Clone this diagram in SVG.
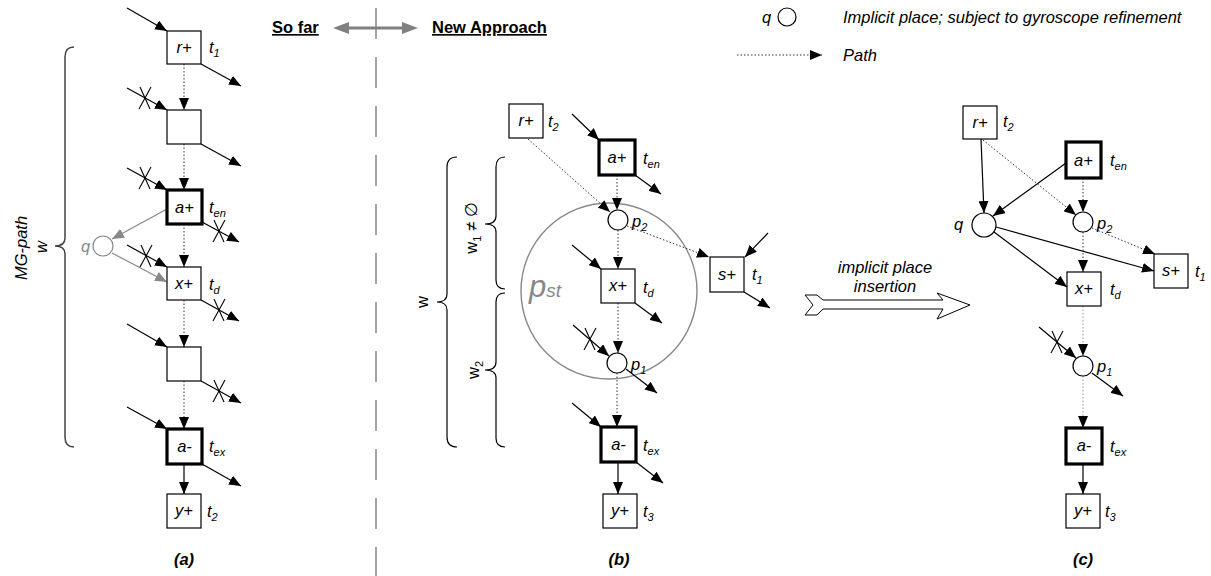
<svg xmlns="http://www.w3.org/2000/svg" xmlns:xlink="http://www.w3.org/1999/xlink" width="1211" height="576" viewBox="0 0 1211 576">
  <style>
    text { font-family: "Liberation Sans", Arial, sans-serif; font-size: 16.5px; fill: #000; }
    .it { font-style: italic; }
    .mid { text-anchor: middle; }
    .head { font-weight: bold; text-decoration: underline; font-size: 16.5px; }
    .cap { font-weight: bold; font-style: italic; text-anchor: middle; }
    .gray { fill: #888; }
    .sub { font-size: 11px; }
    .box { fill: #fff; stroke: #000; stroke-width: 1.2; }
    .thick { fill: #fff; stroke: #000; stroke-width: 3.2; }
    .place { fill: #fff; stroke: #000; stroke-width: 1.2; }
    .arc { fill: none; stroke: #000; stroke-width: 1.2; marker-end: url(#ah); }
    .dot { fill: none; stroke: #333; stroke-width: 1; stroke-dasharray: 1.5 2; marker-end: url(#ah); }
    .dotl { fill: none; stroke: #999; stroke-width: 1; stroke-dasharray: 1.5 2; marker-end: url(#ah); }
    .garc { fill: none; stroke: #888; stroke-width: 1.2; marker-end: url(#ahg); }
    .brace { fill: none; stroke: #000; stroke-width: 1.2; }
    .xmark { stroke: #000; stroke-width: 1.1; }
  </style>
  <defs>
    <marker id="ah" viewBox="0 0 12 10" refX="12" refY="5" markerWidth="12" markerHeight="10" markerUnits="userSpaceOnUse" orient="auto">
      <path d="M0,0 L12,5 L0,10 z" fill="#000"/>
    </marker>
    <marker id="ahg" viewBox="0 0 12 10" refX="12" refY="5" markerWidth="12" markerHeight="10" markerUnits="userSpaceOnUse" orient="auto">
      <path d="M0,0 L12,5 L0,10 z" fill="#888"/>
    </marker>
    <!-- cross drawn over a disabled arc -->
    <g id="cross">
      <line class="xmark" x1="-5" y1="-11" x2="5" y2="11"/>
      <line class="xmark" x1="6" y1="-11" x2="-6" y2="11"/>
    </g>
  </defs>

  <!-- headings and divider -->
  <g id="header">
    <line x1="376" y1="8" x2="376" y2="576" stroke="#888" stroke-width="1.5" stroke-dasharray="31 18"/>
    <text class="head" x="272" y="33">So far</text>
    <text class="head" x="432" y="33">New Approach</text>
    <line x1="346" y1="28" x2="405" y2="28" stroke="#808080" stroke-width="3"/>
    <polygon points="333,28 349,22 349,34" fill="#808080"/>
    <polygon points="418,28 402,22 402,34" fill="#808080"/>
  </g>

  <!-- legend -->
  <g id="legend">
    <text class="it" x="762" y="23">q</text>
    <circle class="place" cx="787" cy="17" r="9"/>
    <text class="it" x="843" y="23">Implicit place; subject to gyroscope refinement</text>
    <line class="dot" x1="737" y1="55" x2="822" y2="55"/>
    <text class="it" x="843" y="61">Path</text>
  </g>

  <!-- ===== panel (a) ===== -->
  <g id="a-brace">
    <path d="M74,47 Q65,47 65,57 L65,238 Q65,246 55,246 Q65,246 65,254 L65,437 Q65,447 74,447" fill="none" stroke="#444" stroke-width="1.5"/>
    <text class="it mid" transform="translate(27,248) rotate(-90)">MG-path</text>
    <text class="it mid" transform="translate(47,247) rotate(-90)">w</text>
  </g>
  <g id="a-conn">
    <line class="arc" x1="127" y1="8" x2="167" y2="31"/>
    <line class="arc" x1="201" y1="64" x2="241" y2="86"/>
    <line class="dot" x1="184" y1="64" x2="184" y2="110"/>
    <line class="arc" x1="127" y1="88" x2="167" y2="110"/>
    <use xlink:href="#cross" x="145" y="98"/>
    <line class="arc" x1="201" y1="144" x2="241" y2="166"/>
    <line class="dot" x1="184" y1="144" x2="184" y2="190"/>
    <line class="arc" x1="127" y1="168" x2="167" y2="190"/>
    <use xlink:href="#cross" x="145" y="178"/>
    <line class="arc" x1="202" y1="222" x2="239" y2="242"/>
    <use xlink:href="#cross" x="219" y="231"/>
    <line class="garc" x1="167" y1="209" x2="112" y2="239"/>
    <line class="garc" x1="112" y1="253" x2="167" y2="282"/>
    <line class="arc" x1="127" y1="245" x2="167" y2="267"/>
    <use xlink:href="#cross" x="146" y="256"/>
    <line class="dot" x1="184" y1="224" x2="184" y2="267"/>
    <line class="arc" x1="201" y1="300" x2="239" y2="321"/>
    <use xlink:href="#cross" x="219" y="310"/>
    <line class="dot" x1="184" y1="300" x2="184" y2="347"/>
    <line class="arc" x1="127" y1="324" x2="167" y2="347"/>
    <line class="arc" x1="201" y1="381" x2="241" y2="403"/>
    <use xlink:href="#cross" x="219" y="391"/>
    <line class="dot" x1="184" y1="381" x2="184" y2="429"/>
    <line class="arc" x1="127" y1="407" x2="167" y2="429"/>
    <line class="arc" x1="202" y1="464" x2="241" y2="486"/>
    <line class="arc" x1="184" y1="464" x2="184" y2="494"/>
  </g>
  <g id="a-r">
    <rect class="box" x="167" y="31" width="34" height="33"/>
    <text class="it mid" x="184" y="53">r+</text>
    <text class="it" x="209" y="53">t<tspan class="sub" dy="4">1</tspan></text>
  </g>
  <g id="a-n2"><rect class="box" x="167" y="110" width="34" height="34"/></g>
  <g id="a-en">
    <rect class="thick" x="167" y="190" width="35" height="34"/>
    <text class="it mid" x="184.5" y="213">a+</text>
    <text class="it" x="209" y="213">t<tspan class="sub" dy="4">en</tspan></text>
  </g>
  <g id="a-q">
    <circle cx="103" cy="246" r="10" fill="#fff" stroke="#888" stroke-width="1.2"/>
    <text class="it gray" x="81" y="252">q</text>
  </g>
  <g id="a-x">
    <rect class="box" x="167" y="267" width="34" height="33"/>
    <text class="it mid" x="184" y="289">x+</text>
    <text class="it" x="209" y="290">t<tspan class="sub" dy="4">d</tspan></text>
  </g>
  <g id="a-n4"><rect class="box" x="167" y="347" width="34" height="34"/></g>
  <g id="a-ex">
    <rect class="thick" x="167" y="429" width="35" height="35"/>
    <text class="it mid" x="184.5" y="452">a-</text>
    <text class="it" x="209" y="452">t<tspan class="sub" dy="4">ex</tspan></text>
  </g>
  <g id="a-y">
    <rect class="box" x="167" y="494" width="34" height="34"/>
    <text class="it mid" x="184" y="516">y+</text>
    <text class="it" x="207" y="517">t<tspan class="sub" dy="4">2</tspan></text>
  </g>
  <text class="cap" x="184" y="565">(a)</text>

  <!-- ===== panel (b) ===== -->
  <g id="b-pst">
    <circle cx="609" cy="291" r="88" fill="none" stroke="#888" stroke-width="1.4"/>
    <text class="it gray" x="529" y="297" style="font-size:31px">p<tspan style="font-size:19px">st</tspan></text>
  </g>
  <g id="b-braces">
    <path class="brace" d="M457,157 Q447,157 447,167 L447,294 Q447,302 437,302 Q447,302 447,310 L447,437 Q447,447 457,447"/>
    <path class="brace" d="M505,157 Q496,157 496,167 L496,216 Q496,224 485,224 Q496,224 496,232 L496,280 Q496,289 505,289"/>
    <path class="brace" d="M505,293 Q496,293 496,302 L496,362 Q496,370 485,370 Q496,370 496,378 L496,438 Q496,447 505,447"/>
    <text class="mid" transform="translate(428,302) rotate(-90)">w</text>
    <text class="mid" transform="translate(477,228) rotate(-90)">w<tspan class="sub" dy="4">1</tspan><tspan dy="-4"> ≠ ∅</tspan></text>
    <text class="mid" transform="translate(479,370) rotate(-90)">w<tspan class="sub" dy="4">2</tspan></text>
  </g>
  <g id="b-conn">
    <line class="arc" x1="572" y1="114" x2="599" y2="140"/>
    <line class="arc" x1="635" y1="175" x2="661" y2="194"/>
    <line class="dot" x1="617" y1="175" x2="617" y2="210"/>
    <line class="dot" x1="528" y1="139" x2="610" y2="212"/>
    <line class="dot" x1="627" y1="226" x2="709" y2="257"/>
    <line class="arc" x1="768" y1="233" x2="745" y2="257"/>
    <line class="arc" x1="744" y1="292" x2="770" y2="308"/>
    <line class="dot" x1="618" y1="230" x2="618" y2="269"/>
    <line class="arc" x1="572" y1="245" x2="601" y2="269"/>
    <line class="arc" x1="635" y1="303" x2="662" y2="323"/>
    <line class="dot" x1="618" y1="303" x2="618" y2="353"/>
    <line class="arc" x1="573" y1="325" x2="609" y2="356"/>
    <use xlink:href="#cross" x="590" y="339"/>
    <line class="arc" x1="626" y1="369" x2="657" y2="393"/>
    <line class="dot" x1="617" y1="373" x2="617" y2="427"/>
    <line class="arc" x1="572" y1="403" x2="601" y2="427"/>
    <line class="arc" x1="636" y1="462" x2="663" y2="483"/>
    <line class="arc" x1="618" y1="462" x2="618" y2="494"/>
  </g>
  <g id="b-r">
    <rect class="box" x="509" y="104" width="34" height="34"/>
    <text class="it mid" x="526" y="126">r+</text>
    <text class="it" x="548" y="127">t<tspan class="sub" dy="4">2</tspan></text>
  </g>
  <g id="b-en">
    <rect class="thick" x="599" y="140" width="36" height="35"/>
    <text class="it mid" x="617" y="163">a+</text>
    <text class="it" x="643" y="164">t<tspan class="sub" dy="4">en</tspan></text>
  </g>
  <g id="b-p2">
    <circle class="place" cx="618" cy="220" r="10"/>
    <text class="it" x="632" y="227">p<tspan class="sub" dy="4">2</tspan></text>
  </g>
  <g id="b-s">
    <rect class="box" x="710" y="257" width="34" height="35"/>
    <text class="it mid" x="727" y="280">s+</text>
    <text class="it" x="752" y="280">t<tspan class="sub" dy="4">1</tspan></text>
  </g>
  <g id="b-x">
    <rect class="box" x="601" y="269" width="34" height="34"/>
    <text class="it mid" x="618" y="291">x+</text>
    <text class="it" x="643" y="293">t<tspan class="sub" dy="4">d</tspan></text>
  </g>
  <g id="b-p1">
    <circle class="place" cx="617" cy="363" r="10"/>
    <text class="it" x="631" y="370">p<tspan class="sub" dy="4">1</tspan></text>
  </g>
  <g id="b-ex">
    <rect class="thick" x="601" y="427" width="35" height="35"/>
    <text class="it mid" x="618.5" y="450">a-</text>
    <text class="it" x="643" y="451">t<tspan class="sub" dy="4">ex</tspan></text>
  </g>
  <g id="b-y">
    <rect class="box" x="603" y="494" width="34" height="34"/>
    <text class="it mid" x="620" y="516">y+</text>
    <text class="it" x="643" y="517">t<tspan class="sub" dy="4">3</tspan></text>
  </g>
  <text class="cap" x="619" y="565">(b)</text>

  <!-- transformation arrow -->
  <g id="insertion">
    <polygon points="805,295 817,295 823,300 943,300 937,293 970,305 937,319 943,309 823,309 817,315 805,315 813,305" fill="#fff" stroke="#000" stroke-width="1"/>
    <text class="it mid" x="885" y="273">implicit place</text>
    <text class="it mid" x="885" y="292">insertion</text>
  </g>

  <!-- ===== panel (c) ===== -->
  <g id="c-conn">
    <line class="arc" x1="981" y1="139" x2="984" y2="213"/>
    <line class="arc" x1="1066" y1="163" x2="993" y2="216"/>
    <line class="dot" x1="983" y1="140" x2="1076" y2="215"/>
    <line class="dot" x1="1083" y1="178" x2="1083" y2="212"/>
    <line class="dot" x1="1092" y1="228" x2="1155" y2="254"/>
    <line class="arc" x1="996" y1="227" x2="1154" y2="271"/>
    <line class="arc" x1="994" y1="232" x2="1067" y2="287"/>
    <line class="dot" x1="1083" y1="232" x2="1083" y2="272"/>
    <line class="dotl" x1="1083" y1="306" x2="1083" y2="356"/>
    <line class="arc" x1="1039" y1="327" x2="1076" y2="358"/>
    <use xlink:href="#cross" x="1057" y="342"/>
    <line class="arc" x1="1092" y1="373" x2="1123" y2="396"/>
    <line class="dotl" x1="1083" y1="376" x2="1083" y2="428"/>
    <line class="arc" x1="1083" y1="464" x2="1083" y2="494"/>
  </g>
  <g id="c-r">
    <rect class="box" x="963" y="106" width="34" height="33"/>
    <text class="it mid" x="980" y="128">r+</text>
    <text class="it" x="1003" y="127">t<tspan class="sub" dy="4">2</tspan></text>
  </g>
  <g id="c-en">
    <rect class="thick" x="1066" y="142" width="35" height="36"/>
    <text class="it mid" x="1083.5" y="166">a+</text>
    <text class="it" x="1110" y="166">t<tspan class="sub" dy="4">en</tspan></text>
  </g>
  <g id="c-q">
    <circle class="place" cx="984" cy="225" r="12"/>
    <text class="it" x="954" y="230">q</text>
  </g>
  <g id="c-p2">
    <circle class="place" cx="1083" cy="222" r="10"/>
    <text class="it" x="1097" y="229">p<tspan class="sub" dy="4">2</tspan></text>
  </g>
  <g id="c-s">
    <rect class="box" x="1154" y="254" width="34" height="34"/>
    <text class="it mid" x="1171" y="276">s+</text>
    <text class="it" x="1195" y="277">t<tspan class="sub" dy="4">1</tspan></text>
  </g>
  <g id="c-x">
    <rect class="box" x="1067" y="272" width="34" height="34"/>
    <text class="it mid" x="1084" y="294">x+</text>
    <text class="it" x="1110" y="295">t<tspan class="sub" dy="4">d</tspan></text>
  </g>
  <g id="c-p1">
    <circle class="place" cx="1083" cy="366" r="10"/>
    <text class="it" x="1097" y="372">p<tspan class="sub" dy="4">1</tspan></text>
  </g>
  <g id="c-ex">
    <rect class="thick" x="1066" y="428" width="36" height="36"/>
    <text class="it mid" x="1084" y="451">a-</text>
    <text class="it" x="1110" y="452">t<tspan class="sub" dy="4">ex</tspan></text>
  </g>
  <g id="c-y">
    <rect class="box" x="1066" y="494" width="34" height="34"/>
    <text class="it mid" x="1083" y="516">y+</text>
    <text class="it" x="1105" y="517">t<tspan class="sub" dy="4">3</tspan></text>
  </g>
  <text class="cap" x="1083" y="565">(c)</text>
</svg>
